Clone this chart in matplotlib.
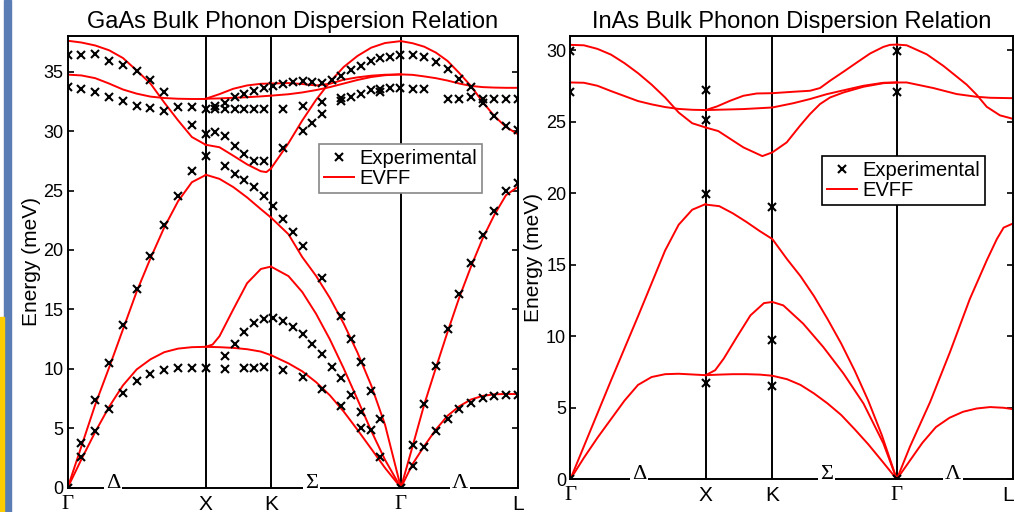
import matplotlib
matplotlib.use('Agg')
import matplotlib.pyplot as plt
from matplotlib.patches import Rectangle
from matplotlib.lines import Line2D

plt.rcParams['font.family'] = ['Liberation Sans', 'DejaVu Sans']

sym_labels = ['Γ', 'X', 'K', 'Γ', 'L']
dir_labels = ['Δ', 'Σ', 'Λ']

# ---------------- GaAs ----------------
gaas_sym_k = [0, 1.0, 1.473, 2.415, 3.261]
gaas_dir_k = [0.328, 1.77, 2.843]

# EVFF curves, Gamma-X
gaas_gx_k = [0, 0.1, 0.2, 0.3, 0.4, 0.5, 0.6, 0.7, 0.8, 0.9, 1.0]
gaas_gx_ta = [0, 2.4, 4.7, 6.8, 8.6, 9.95, 10.8, 11.4, 11.7, 11.82, 11.85]
gaas_gx_la = [0, 3.5, 7.0, 10.1, 13.3, 16.5, 19.3, 21.9, 24.1, 25.7, 26.3]
gaas_gx_to = [34.75, 34.68, 34.45, 34.0, 33.5, 33.15, 32.9, 32.78, 32.72, 32.7, 32.7]
gaas_gx_lo = [37.6, 37.45, 37.2, 36.8, 36.15, 35.1, 34.0, 32.4, 30.9, 29.5, 28.85]

# X-K
gaas_xk_k = [1.0, 1.1, 1.2, 1.3, 1.4, 1.473]
gaas_xk_ta1 = [11.85, 11.82, 11.76, 11.65, 11.45, 11.15]
gaas_xk_la = [26.33, 25.98, 25.29, 24.42, 23.43, 22.73]
gaas_xk_toa = [32.72, 33.11, 33.56, 33.84, 33.98, 34.0]
gaas_xk_tob = [32.72, 32.75, 32.8, 32.85, 32.92, 32.98]
gaas_xk_ta2_k = [1.0, 1.05, 1.1, 1.2, 1.3, 1.4, 1.473]
gaas_xk_ta2 = [11.85, 12.04, 12.74, 15.0, 17.2, 18.4, 18.6]
gaas_xk_lo_k = [1.0, 1.1, 1.2, 1.3, 1.4, 1.44, 1.473]
gaas_xk_lo = [28.85, 28.64, 27.93, 27.2, 26.62, 26.55, 26.85]

# K-Gamma
gaas_kg_k = [1.473, 1.6, 1.7, 1.8, 1.9, 2.0, 2.1, 2.2, 2.3, 2.415]
gaas_kg_ta1 = [11.15, 10.46, 9.79, 8.88, 7.77, 6.41, 4.87, 3.27, 1.66, 0]
gaas_kg_ta2 = [18.6, 17.8, 16.46, 14.63, 12.48, 10.04, 7.43, 4.78, 2.34, 0]
gaas_kg_la = [22.73, 21.32, 19.4, 17.82, 15.96, 13.81, 11.37, 8.6, 5.29, 0]
gaas_kg_lo = [26.85, 28.98, 30.89, 32.63, 34.13, 35.39, 36.32, 37.02, 37.41, 37.57]
gaas_kg_toa = [34.0, 34.04, 33.96, 33.84, 33.98, 34.32, 34.52, 34.66, 34.74, 34.77]
gaas_kg_tob = [32.98, 33.1, 33.25, 33.45, 33.7, 34.0, 34.3, 34.55, 34.7, 34.77]

# Gamma-L
gaas_gl_k = [2.415, 2.5, 2.584, 2.669, 2.753, 2.838, 2.923, 3.007, 3.092, 3.176, 3.261]
gaas_gl_ta = [0, 2.0, 3.5, 4.9, 6.05, 6.85, 7.42, 7.72, 7.86, 7.88, 7.88]
gaas_gl_la = [0, 3.5, 7.0, 10.1, 13.1, 16.0, 18.6, 20.95, 22.95, 24.6, 25.3]
gaas_gl_to = [34.77, 34.73, 34.6, 34.45, 34.25, 34.0, 33.8, 33.7, 33.66, 33.64, 33.64]
gaas_gl_lo = [37.57, 37.39, 37.1, 36.6, 35.9, 34.88, 33.79, 32.46, 31.26, 30.35, 29.75]

# experimental points
gaas_exp_gx_k = [0.1, 0.2, 0.3, 0.4, 0.5, 0.6, 0.7, 0.8, 0.9, 1.0]
gaas_exp_gx_ta = [2.6, 4.8, 6.6, 8.0, 9.0, 9.6, 9.9, 10.05, 10.05, 10.1]
gaas_exp_gx_la = [3.75, 7.4, 10.5, 13.7, 16.7, 19.5, 22.1, 24.5, 26.6, 27.9]
gaas_exp_gx_to_k = [0, 0.1, 0.2, 0.3, 0.4, 0.5, 0.6, 0.7, 0.9, 1.0]
gaas_exp_gx_to = [33.7, 33.56, 33.28, 32.86, 32.49, 32.15, 31.93, 31.65, 32.0, 31.87]
gaas_exp_gx_lo_k = [0, 0.1, 0.2, 0.3, 0.4, 0.5, 0.6, 0.7, 0.8, 0.9, 1.0]
gaas_exp_gx_lo = [36.37, 36.37, 36.46, 35.9, 35.53, 35.02, 34.26, 33.33, 32.0, 30.55, 29.76]

gaas_exp_a_k = [1.067, 1.14, 1.212, 1.28, 1.35, 1.423]
gaas_exp_a = [31.9, 31.85, 31.85, 31.85, 31.85, 31.85]
gaas_exp_b_k = [1.067, 1.14, 1.212, 1.28, 1.35, 1.423, 1.49, 1.562, 1.635, 1.703,
                1.772, 1.84, 1.913, 1.984, 2.055, 2.128, 2.198, 2.267, 2.336, 2.408]
gaas_exp_b = [32.1, 32.4, 32.9, 33.1, 33.4, 33.6, 33.8, 33.98, 34.1, 34.18,
              34.1, 34.07, 34.26, 34.65, 35.1, 35.5, 35.9, 36.15, 36.2, 36.4]
gaas_exp_c_k = [1.067, 1.14, 1.212, 1.28, 1.35, 1.423, 1.562, 1.703, 1.772, 1.84]
gaas_exp_c = [29.96, 29.6, 28.75, 28.08, 27.46, 27.46, 28.6, 30.0, 30.65, 31.4]
gaas_exp_t_k = [1.562, 1.703, 1.84, 1.984, 1.984, 2.055, 2.128, 2.198, 2.267, 2.267, 2.336, 2.408]
gaas_exp_t = [31.87, 32.15, 32.44, 32.57, 32.8, 32.86, 33.14, 33.42, 33.56, 33.3, 33.6, 33.64]
gaas_exp_d_k = [1.14, 1.212, 1.28, 1.35, 1.423, 1.49, 1.562, 1.635, 1.703, 1.84,
                1.984, 2.055, 2.128, 2.198, 2.267, 2.267]
gaas_exp_d = [27.09, 26.39, 25.88, 25.32, 24.5, 23.66, 22.6, 21.47, 20.34, 17.67,
              14.43, 12.53, 10.58, 8.1, 5.77, 2.62]
gaas_exp_e_k = [1.14, 1.212, 1.28, 1.35, 1.423, 1.49, 1.562, 1.635, 1.703, 1.772,
                1.84, 1.913, 1.984, 2.055, 2.128, 2.128]
gaas_exp_e = [11.08, 12.1, 13.09, 13.87, 14.22, 14.25, 14.0, 13.5, 12.89, 12.1,
              11.23, 10.15, 9.19, 7.79, 6.38, 5.0]
gaas_exp_f_k = [1.14, 1.28, 1.35, 1.423, 1.562, 1.703, 1.84, 1.984, 2.198]
gaas_exp_f = [10.0, 10.08, 10.08, 10.13, 9.93, 9.28, 8.3, 6.84, 4.87]

gaas_exp_gl_k = [2.5, 2.584, 2.669, 2.753, 2.838, 2.923, 3.007, 3.092, 3.176, 3.261]
gaas_exp_gl_ta = [1.83, 3.41, 4.73, 5.77, 6.62, 7.12, 7.54, 7.74, 7.76, 7.78]
gaas_exp_gl_la = [3.6, 7.06, 10.27, 13.37, 16.26, 18.88, 21.24, 23.3, 24.98, 25.63]
gaas_exp_gl_lo = [36.4, 36.2, 35.8, 35.2, 34.4, 33.75, 32.4, 31.3, 30.4, 30.1]
gaas_exp_gl_to_k = [2.5, 2.584, 2.753, 2.838, 2.923, 3.007, 3.092, 3.176, 3.261]
gaas_exp_gl_to = [33.5, 33.5, 32.7, 32.7, 32.85, 32.7, 32.7, 32.7, 32.7]
gaas_exp_gamma_k = [0, 2.415]
gaas_exp_gamma = [0, 0]

# ---------------- InAs ----------------
inas_sym_k = [0, 1.0, 1.492, 2.411, 3.272]
inas_dir_k = [0.507, 1.894, 2.824]

inas_gx_k = [0, 0.1, 0.2, 0.3, 0.4, 0.5, 0.6, 0.7, 0.8, 0.9, 1.0]
inas_gx_ta = [0, 1.5, 2.9, 4.2, 5.5, 6.6, 7.15, 7.35, 7.38, 7.33, 7.28]
inas_gx_la = [0, 2.3, 4.6, 6.9, 9.15, 11.4, 13.7, 16.0, 17.8, 18.85, 19.25]
inas_gx_to = [27.75, 27.73, 27.52, 27.15, 26.8, 26.45, 26.22, 26.03, 25.9, 25.84, 25.82]
inas_gx_lo = [30.38, 30.35, 30.1, 29.7, 29.1, 28.4, 27.6, 26.7, 25.65, 24.9, 24.6]

inas_xg_k = [1.0, 1.1, 1.2, 1.3, 1.4, 1.492, 1.6, 1.7, 1.8, 1.9, 2.0, 2.1, 2.2, 2.3, 2.411]
inas_xg_ta1 = [7.28, 7.32, 7.35, 7.35, 7.32, 7.24, 7.0, 6.6, 6.0, 5.3, 4.5, 3.5, 2.45, 1.3, 0]
inas_xg_la = [19.21, 19.1, 18.6, 18.0, 17.35, 16.8, 15.4, 14.2, 12.8, 11.2, 9.5, 7.6, 5.5, 3.1, 0]
inas_xg_ta2_k = [1.0, 1.07, 1.133, 1.23, 1.33, 1.43, 1.492, 1.573, 1.72, 1.868, 2.017, 2.165, 2.312, 2.411]
inas_xg_ta2 = [7.28, 7.63, 8.44, 9.95, 11.46, 12.32, 12.4, 12.16, 10.88, 9.25, 7.4, 5.3, 2.51, 0]
inas_xg_a_k = [1.0, 1.082, 1.18, 1.278, 1.377, 1.492, 1.647, 1.77, 1.844, 1.918, 2.017, 2.115, 2.213, 2.312, 2.361, 2.411]
inas_xg_a = [25.82, 26.07, 26.47, 26.82, 26.98, 27.0, 27.1, 27.17, 27.36, 27.87, 28.5, 29.14, 29.77, 30.24, 30.38, 30.4]
inas_xg_b_k = [1.0, 1.278, 1.492, 1.647, 1.77, 1.893, 2.017, 2.165, 2.312, 2.411]
inas_xg_b = [25.82, 25.89, 26.0, 26.3, 26.59, 26.93, 27.2, 27.52, 27.73, 27.75]
inas_xg_c_k = [1.0, 1.093, 1.278, 1.418, 1.492, 1.598, 1.696, 1.77, 1.844, 1.918, 2.017, 2.165, 2.312, 2.411]
inas_xg_c = [24.6, 24.35, 23.21, 22.6, 22.86, 23.56, 24.72, 25.54, 26.24, 26.7, 27.05, 27.45, 27.7, 27.75]

inas_gl_lo_k = [2.411, 2.484, 2.632, 2.755, 2.927, 3.0, 3.075, 3.173, 3.272]
inas_gl_lo = [30.4, 30.35, 29.72, 28.91, 27.6, 26.9, 26.05, 25.45, 25.2]
inas_gl_to_k = [2.411, 2.484, 2.681, 2.853, 3.0, 3.1, 3.272]
inas_gl_to = [27.75, 27.75, 27.36, 26.94, 26.75, 26.68, 26.65]
inas_gl_la_k = [2.411, 2.509, 2.657, 2.804, 2.95, 3.075, 3.15, 3.2, 3.272]
inas_gl_la = [0, 2.3, 5.4, 8.9, 12.6, 15.3, 16.8, 17.6, 17.9]
inas_gl_ta_k = [2.411, 2.5, 2.6, 2.7, 2.8, 2.9, 3.0, 3.1, 3.2, 3.272]
inas_gl_ta = [0, 1.2, 2.55, 3.65, 4.3, 4.72, 4.95, 5.05, 5.0, 4.9]

inas_exp_k = [0, 0, 0, 1.0, 1.0, 1.0, 1.0, 1.492, 1.492, 1.492, 2.411, 2.411, 2.411]
inas_exp_e = [29.96, 27.05, 0, 27.2, 25.14, 19.96, 6.7, 19.02, 9.77, 6.53, 29.96, 27.05, 0]

gaas_curves = [
    (gaas_gx_k, gaas_gx_ta), (gaas_gx_k, gaas_gx_la), (gaas_gx_k, gaas_gx_to), (gaas_gx_k, gaas_gx_lo),
    (gaas_xk_k, gaas_xk_ta1), (gaas_xk_k, gaas_xk_la), (gaas_xk_k, gaas_xk_toa), (gaas_xk_k, gaas_xk_tob),
    (gaas_xk_ta2_k, gaas_xk_ta2), (gaas_xk_lo_k, gaas_xk_lo),
    (gaas_kg_k, gaas_kg_ta1), (gaas_kg_k, gaas_kg_ta2), (gaas_kg_k, gaas_kg_la),
    (gaas_kg_k, gaas_kg_lo), (gaas_kg_k, gaas_kg_toa), (gaas_kg_k, gaas_kg_tob),
    (gaas_gl_k, gaas_gl_ta), (gaas_gl_k, gaas_gl_la), (gaas_gl_k, gaas_gl_to), (gaas_gl_k, gaas_gl_lo),
]
gaas_points = [
    (gaas_exp_gx_k, gaas_exp_gx_ta), (gaas_exp_gx_k, gaas_exp_gx_la),
    (gaas_exp_gx_to_k, gaas_exp_gx_to), (gaas_exp_gx_lo_k, gaas_exp_gx_lo),
    (gaas_exp_a_k, gaas_exp_a), (gaas_exp_b_k, gaas_exp_b), (gaas_exp_c_k, gaas_exp_c),
    (gaas_exp_t_k, gaas_exp_t), (gaas_exp_d_k, gaas_exp_d), (gaas_exp_e_k, gaas_exp_e),
    (gaas_exp_f_k, gaas_exp_f),
    (gaas_exp_gl_k, gaas_exp_gl_ta), (gaas_exp_gl_k, gaas_exp_gl_la),
    (gaas_exp_gl_k, gaas_exp_gl_lo), (gaas_exp_gl_to_k, gaas_exp_gl_to),
    (gaas_exp_gamma_k, gaas_exp_gamma),
]
inas_curves = [
    (inas_gx_k, inas_gx_ta), (inas_gx_k, inas_gx_la), (inas_gx_k, inas_gx_to), (inas_gx_k, inas_gx_lo),
    (inas_xg_k, inas_xg_ta1), (inas_xg_k, inas_xg_la), (inas_xg_ta2_k, inas_xg_ta2),
    (inas_xg_a_k, inas_xg_a), (inas_xg_b_k, inas_xg_b), (inas_xg_c_k, inas_xg_c),
    (inas_gl_lo_k, inas_gl_lo), (inas_gl_to_k, inas_gl_to),
    (inas_gl_la_k, inas_gl_la), (inas_gl_ta_k, inas_gl_ta),
]
inas_points = [(inas_exp_k, inas_exp_e)]


def panel(ax, title, sym_k, dir_k, curves, points, ymax, yticks, legend_xy, legend_edge,
          last_ha='center'):
    for k in sym_k[1:4]:
        ax.axvline(k, color='black', lw=1.4, zorder=1.5)
    for k, e in curves:
        ax.plot(k, e, color='red', lw=1.4, zorder=2)
    for k, e in points:
        ax.plot(k, e, 'x', color='black', ms=5.5, mew=1.5, zorder=3)
    ax.set_xlim(sym_k[0], sym_k[-1])
    ax.set_ylim(0, ymax)
    ax.set_yticks(yticks)
    ax.set_xticks(sym_k)
    ax.set_xticklabels(sym_labels)
    for lab in ax.get_xticklabels():
        if lab.get_text() == 'Γ':
            lab.set_fontfamily('Liberation Serif')
        lab.set_fontsize(15)
    ax.get_xticklabels()[-1].set_ha(last_ha)
    ax.tick_params(axis='x', length=0, pad=5)
    ax.tick_params(axis='y', direction='in', right=True, length=4.5, width=1.2,
                   labelsize=13, pad=3)
    for s in ax.spines.values():
        s.set_linewidth(1.4)
    for k, t in zip(dir_k, dir_labels):
        ax.text(k, 0, t, ha='center', va='baseline', fontsize=16, family='Liberation Serif',
                bbox=dict(facecolor='white', edgecolor='none', pad=1.5), clip_on=False, zorder=4)
    ax.set_title(title, fontsize=17, pad=6)
    ax.set_ylabel('Energy (meV)', fontsize=15, labelpad=2)
    handles = [Line2D([], [], ls='none', marker='x', color='black', ms=5.5, mew=1.5),
               Line2D([], [], color='red', lw=1.4)]
    leg = ax.legend(handles, ['Experimental', 'EVFF'], loc='upper left',
                    bbox_to_anchor=legend_xy, bbox_transform=ax.figure.transFigure,
                    borderaxespad=0, fontsize=14.5, fancybox=False, framealpha=1,
                    handlelength=1.5, handletextpad=0.25, borderpad=0.25, labelspacing=0.05)
    leg.get_frame().set_edgecolor(legend_edge)
    leg.get_frame().set_linewidth(1.2)


fig = plt.figure(figsize=(10.15, 5.12), dpi=100)
ax1 = fig.add_axes([0.0667, 0.0475, 0.4433, 0.8822])
ax2 = fig.add_axes([0.5619, 0.0639, 0.4365, 0.8658])

panel(ax1, 'GaAs Bulk Phonon Dispersion Relation', gaas_sym_k, gaas_dir_k, gaas_curves, gaas_points,
      38, [0, 5, 10, 15, 20, 25, 30, 35], (0.3143, 0.7188), '#888888')
panel(ax2, 'InAs Bulk Phonon Dispersion Relation', inas_sym_k, inas_dir_k, inas_curves, inas_points,
      31, [0, 5, 10, 15, 20, 25, 30], (0.8099, 0.6953), 'black', last_ha='right')

# slide decorations at the left edge
fig.patches.append(Rectangle((4 / 1015, 0), 7 / 1015, 1, transform=fig.transFigure,
                             color='#5b7db5', zorder=0))
fig.patches.append(Rectangle((0, 0), 4 / 1015, 0.38, transform=fig.transFigure,
                             color='#ffcc00', zorder=0))

fig.savefig('out.png', dpi=100)
